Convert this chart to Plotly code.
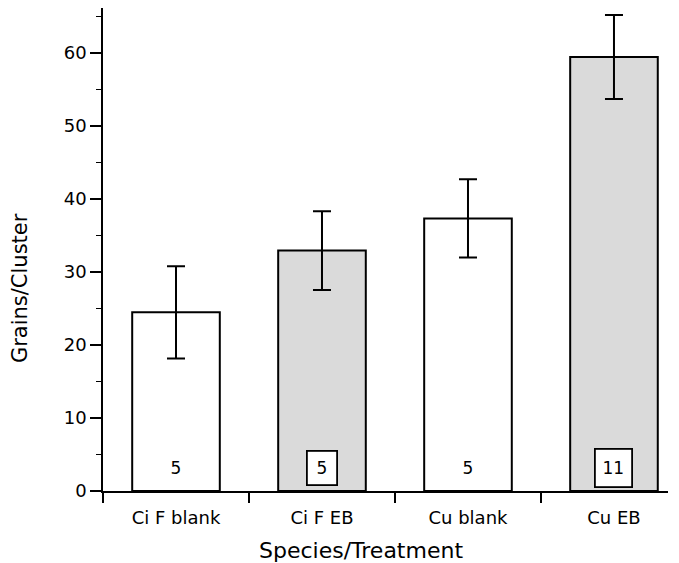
import plotly.graph_objects as go

categories = ["Ci F blank", "Ci F EB", "Cu blank", "Cu EB"]
means = [24.45, 32.9, 37.3, 59.4]
errors = [6.3, 5.4, 5.35, 5.75]
counts = ["5", "5", "5", "11"]
shaded = [False, True, False, True]
x_title = "Species/Treatment"
y_title = "Grains/Cluster"

fills = ["#dadada" if s else "white" for s in shaded]
FONT = "DejaVu Sans, Arial, sans-serif"

fig = go.Figure()
fig.add_trace(go.Bar(
    x=categories, y=means,
    width=0.6,
    marker=dict(color=fills, line=dict(color="black", width=2)),
    error_y=dict(type="data", array=errors, visible=True, color="black",
                 thickness=2, width=9),
    showlegend=False,
))

for cat, n, s in zip(categories, counts, shaded):
    fig.add_annotation(
        x=cat, y=3.1, xref="x", yref="y", text=n, showarrow=False,
        font=dict(size=17, color="black", family=FONT),
        bgcolor="white" if s else "rgba(0,0,0,0)",
        bordercolor="black" if s else "rgba(0,0,0,0)",
        borderwidth=1.8 if s else 0,
        width=24 if n == "5" else 31, height=28 if n == "5" else 32, borderpad=2,
    )

# axis titles placed as in the reference (off-centre)
fig.add_annotation(
    x=0.457, y=-0.123, xref="paper", yref="paper", text=x_title, showarrow=False,
    xanchor="center", yanchor="middle", font=dict(size=22, color="black", family=FONT),
)
fig.add_annotation(
    x=-0.147, y=0.42, xref="paper", yref="paper", text=y_title, showarrow=False,
    textangle=-90, xanchor="center", yanchor="middle",
    font=dict(size=21, color="black", family=FONT),
)

fig.update_layout(
    width=679, height=563,
    margin=dict(l=95, r=19, t=0, b=80),
    paper_bgcolor="white", plot_bgcolor="white",
    font=dict(family=FONT, color="black", size=18),
    bargap=0.4,
)
fig.update_xaxes(
    type="category", range=[-0.5, 3.37],
    showline=True, linecolor="black", linewidth=1.5,
    ticks="outside", tickson="boundaries", ticklen=10, tickwidth=1.5, tickcolor="black",
    showgrid=False, zeroline=False,
    tickfont=dict(size=18), ticklabelstandoff=10,
)
fig.update_yaxes(
    range=[0, 66.1], tickvals=[0, 10, 20, 30, 40, 50, 60],
    showline=True, linecolor="black", linewidth=1.5,
    ticks="outside", ticklen=11, tickwidth=1.5, tickcolor="black",
    minor=dict(tickvals=[5, 15, 25, 35, 45, 55, 65], ticks="outside", ticklen=5,
               tickwidth=1.2, tickcolor="black"),
    showgrid=False, zeroline=False,
    tickfont=dict(size=18),
)

fig.write_html("out.html")
